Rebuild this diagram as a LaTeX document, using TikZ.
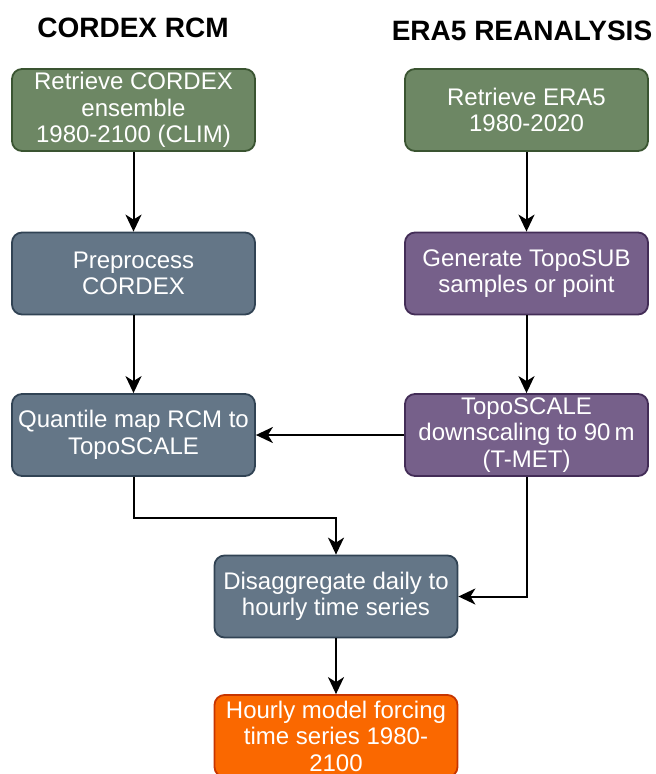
\documentclass[tikz,border=0pt]{standalone}
\usepackage{fontspec}
\setmainfont{Liberation Sans}
\usetikzlibrary{arrows.meta}
\definecolor{gfill}{HTML}{6D8764}\definecolor{gline}{HTML}{3A5431}
\definecolor{bfill}{HTML}{647687}\definecolor{bline}{HTML}{314354}
\definecolor{pfill}{HTML}{76608A}\definecolor{pline}{HTML}{432D57}
\definecolor{ofill}{HTML}{FA6800}\definecolor{oline}{HTML}{C73500}
\tikzset{
  box/.style={rectangle, rounded corners=10pt, line width=1.8pt, minimum width=243pt,
    minimum height=82pt, inner sep=0pt, align=center, text=white,
    font=\fontsize{24}{26.5}\selectfont},
  gbox/.style={box, fill=gfill, draw=gline},
  bbox/.style={box, fill=bfill, draw=bline},
  pbox/.style={box, fill=pfill, draw=pline},
  obox/.style={box, fill=ofill, draw=oline},
  title/.style={font=\fontsize{28}{30}\bfseries\selectfont, inner sep=0pt},
  conn/.style={line width=2pt, -{Stealth[length=17pt,width=16pt,inset=5pt]}}
}
\begin{document}
\begin{tikzpicture}[x=1pt,y=-1pt]
\useasboundingbox (0,0) rectangle (656,774);
\node[title] (t1) at (133,28) {CORDEX RCM};
\node[title] (t2) at (522,31) {ERA5 REANALYSIS};
\node[gbox] (a1) at (133.5,110) {Retrieve CORDEX\\ensemble\\1980-2100 (CLIM)};
\node[gbox] (b1) at (526.5,110) {Retrieve ERA5\\1980-2020};
\node[bbox] (a2) at (133.5,273.5) {Preprocess\\CORDEX};
\node[pbox] (b2) at (526.5,273.5) {Generate TopoSUB\\samples or point};
\node[bbox] (a3) at (133.5,435) {Quantile map RCM to\\TopoSCALE};
\node[pbox] (b3) at (526.5,435) {TopoSCALE\\downscaling to 90\,m\\(T-MET)};
\node[bbox] (c) at (336,596.5) {Disaggregate daily to\\hourly time series};
\node[obox] (d) at (336,736) {Hourly model forcing\\time series 1980-\\2100};
\draw[conn] (a1) -- (a2);
\draw[conn] (b1) -- (b2);
\draw[conn] (a2) -- (a3);
\draw[conn] (b2) -- (b3);
\draw[conn] (b3) -- (a3);
\draw[conn] (a3.south) -- ++(0,41) -| (c.north);
\draw[conn] (b3.south) |- (c.east);
\draw[conn] (c) -- (d);
\end{tikzpicture}
\end{document}
